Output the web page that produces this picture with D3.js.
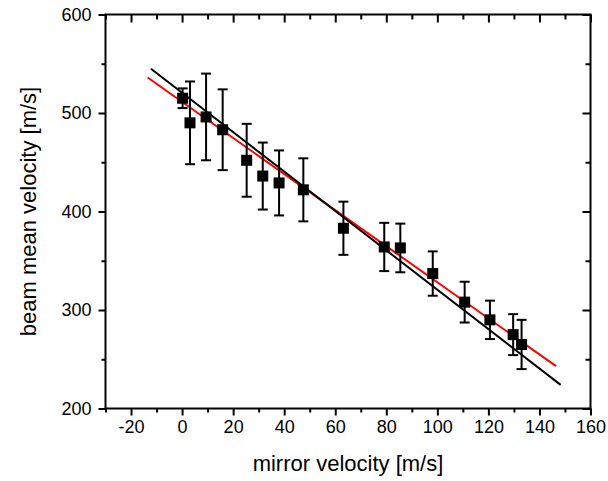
<!DOCTYPE html>
<html>
<head>
<meta charset="utf-8">
<script src="https://cdn.jsdelivr.net/npm/d3@7"></script>
<style>
  body { margin: 0; background: #fff; }
  text { font-family: Arial, "Liberation Sans", sans-serif; }
</style>
</head>
<body>
<div id="chart"></div>
<script>
// measured points
const mirrorVel = [0.2, 3.1, 9.4, 15.9, 25.3, 31.6, 38.0, 47.5, 63.2, 79.2, 85.5, 98.2, 110.7, 120.6, 129.7, 133.0];
const beamVel = [515, 490, 496, 483, 452, 436, 429, 422, 383, 364, 363, 337, 308, 290, 275, 265];
const beamErr = [10, 42, 44, 41, 37, 34, 33, 32, 27, 24.5, 24.7, 22.5, 20.7, 19.5, 20.8, 25];

// fit lines (end points)
const blackFitX = [-12.2, 148.3];
const blackFitY = [545, 224];
const redFitX = [-13.5, 146.5];
const redFitY = [536, 243];

// ticks
const xMajor = [-20, 0, 20, 40, 60, 80, 100, 120, 140, 160];
const xMinor = [-30, -10, 10, 30, 50, 70, 90, 110, 130, 150];
const yMajor = [200, 300, 400, 500, 600];
const yMinor = [250, 350, 450, 550];

const width = 608, height = 481;
const mLeft = 105.5, mRight = 590.5, mTop = 14.5, mBottom = 408.5;

const svg = d3.select('#chart').append('svg')
    .attr('width', width)
    .attr('height', height);

const x = d3.scaleLinear().domain([-30, 160]).range([mLeft, mRight]);
const y = d3.scaleLinear().domain([200, 600]).range([mBottom, mTop]);

// axes helper: major with labels, minor shorter without
const addAxis = (axisFn, scale, transform, major, minor, bigLen, smallLen, labels) => {
  const gMaj = svg.append('g').attr('transform', transform)
      .call(axisFn(scale).tickValues(major).tickSize(bigLen).tickSizeOuter(0)
        .tickPadding(labels ? 5 : 0)
        .tickFormat(labels ? (d => String(d)) : ''));
  const gMin = svg.append('g').attr('transform', transform)
      .call(axisFn(scale).tickValues(minor).tickSize(smallLen).tickSizeOuter(0).tickFormat(''));
  [gMaj, gMin].forEach(g => {
    g.select('.domain').remove();
    g.selectAll('line').attr('stroke', '#000').attr('stroke-width', 2);
  });
  gMaj.selectAll('text')
      .attr('fill', '#000')
      .style('font-size', '18px');
  return gMaj;
};

addAxis(d3.axisBottom, x, `translate(0,${mBottom})`, xMajor, xMinor, 7, 4, true);
addAxis(d3.axisTop, x, `translate(0,${mTop})`, xMajor, xMinor, -8, -5, false);
addAxis(d3.axisLeft, y, `translate(${mLeft},0)`, yMajor, yMinor, 7, 4, true)
    .selectAll('text').attr('dx', '-2');
addAxis(d3.axisRight, y, `translate(${mRight},0)`, yMajor, yMinor, -8, -5, false);

// frame
svg.append('rect')
    .attr('x', mLeft)
    .attr('y', mTop)
    .attr('width', mRight - mLeft)
    .attr('height', mBottom - mTop)
    .attr('fill', 'none')
    .attr('stroke', '#000')
    .attr('stroke-width', 2);

// fit lines
const line = d3.line().x(d => x(d[0])).y(d => y(d[1]));
svg.append('path')
    .datum(d3.zip(redFitX, redFitY))
    .attr('d', line)
    .attr('fill', 'none')
    .attr('stroke', '#ff0000')
    .attr('stroke-width', 2);
svg.append('path')
    .datum(d3.zip(blackFitX, blackFitY))
    .attr('d', line)
    .attr('fill', 'none')
    .attr('stroke', '#000')
    .attr('stroke-width', 2);

// error bars + squares
const pts = mirrorVel.map((v, i) => ({ x: v, y: beamVel[i], e: beamErr[i] }));
const cap = 5, sq = 11;
const eg = svg.append('g').attr('stroke', '#000').attr('stroke-width', 2);
eg.selectAll('.bar').data(pts).enter().append('line')
    .attr('x1', d => x(d.x)).attr('x2', d => x(d.x))
    .attr('y1', d => y(d.y - d.e)).attr('y2', d => y(d.y + d.e));
eg.selectAll('.capT').data(pts).enter().append('line')
    .attr('x1', d => x(d.x) - cap).attr('x2', d => x(d.x) + cap)
    .attr('y1', d => y(d.y + d.e)).attr('y2', d => y(d.y + d.e));
eg.selectAll('.capB').data(pts).enter().append('line')
    .attr('x1', d => x(d.x) - cap).attr('x2', d => x(d.x) + cap)
    .attr('y1', d => y(d.y - d.e)).attr('y2', d => y(d.y - d.e));

svg.append('g').selectAll('rect').data(pts).enter().append('rect')
    .attr('x', d => x(d.x) - sq / 2)
    .attr('y', d => y(d.y) - sq / 2)
    .attr('width', sq)
    .attr('height', sq)
    .attr('fill', '#000');

// axis titles
svg.append('text')
    .attr('x', (mLeft + mRight) / 2)
    .attr('y', 471)
    .attr('text-anchor', 'middle')
    .style('font-size', '22px')
    .text('mirror velocity [m/s]');

svg.append('text')
    .attr('transform', `translate(36,${(mTop + mBottom) / 2}) rotate(-90)`)
    .attr('text-anchor', 'middle')
    .style('font-size', '22px')
    .text('beam mean velocity [m/s]');
</script>
</body>
</html>
